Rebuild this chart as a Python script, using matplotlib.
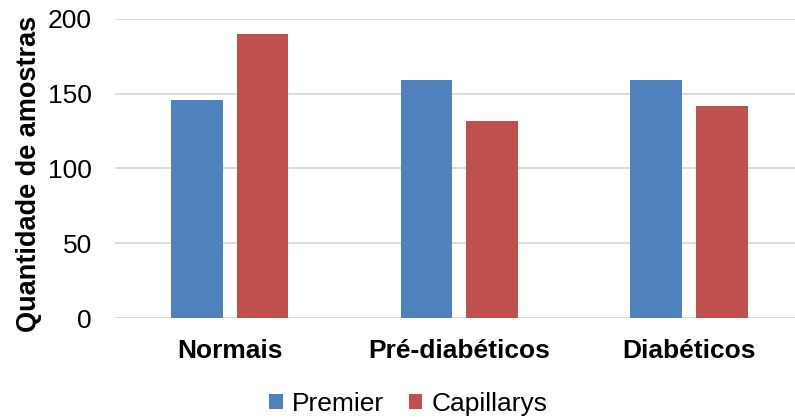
import numpy as np
import matplotlib as mpl
import matplotlib.pyplot as plt

mpl.rcParams.update({"font.family": ["Liberation Sans", "DejaVu Sans"],
                     "axes.unicode_minus": False})

categories = ["Normais", "Pré-diabéticos", "Diabéticos"]
premier = [146, 159, 159]
capillarys = [190, 132, 142]
yticks = [0, 50, 100, 150, 200]


def main():
    fig = plt.figure(figsize=(7.95, 4.19), dpi=100)
    # plot area runs a little past the right edge, like the gridlines
    ax = fig.add_axes([114.8 / 795, 100.7 / 419, 689.1 / 795, 299.6 / 419])

    x = np.arange(len(categories))
    w = 0.226
    off = 0.143
    ax.bar(x - off, premier, width=w, color="#4f81bd", label="Premier", zorder=2)
    ax.bar(x + off, capillarys, width=w, color="#c0504d", label="Capillarys", zorder=2)

    ax.set_xlim(-0.5, 2.5)
    ax.set_ylim(0, 200)
    ax.set_yticks(yticks)
    ax.yaxis.grid(True, color="#d9d9d9", linewidth=1.3, zorder=0)
    ax.set_axisbelow(True)
    for s in ax.spines.values():
        s.set_visible(False)
    ax.tick_params(axis="y", length=0, pad=16.5, labelsize=19)
    ax.tick_params(axis="x", length=0, pad=15, labelsize=19)
    ax.set_xticks(x)
    ax.set_xticklabels(categories, fontweight="bold")

    fig.text(29 / 795, 1 - 174 / 419, "Quantidade de amostras", rotation=90,
             ha="center", va="center", fontsize=19.5, fontweight="bold")

    fig.legend(loc="center", bbox_to_anchor=(408.5 / 795, 1 - 404 / 419), ncol=2,
               frameon=False, fontsize=19, handlelength=0.5, handleheight=0.5,
               handletextpad=0.35, columnspacing=0.95)

    plt.savefig("out.png", dpi=100)


if __name__ == "__main__":
    main()
